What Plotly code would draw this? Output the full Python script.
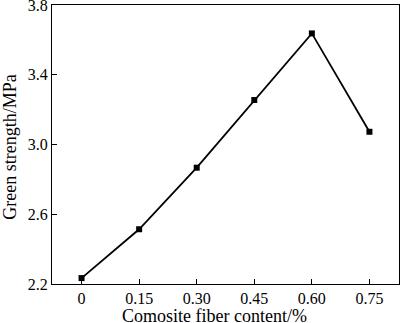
import plotly.graph_objects as go

fiber_content = [0, 0.15, 0.30, 0.45, 0.60, 0.75]
green_strength = [2.234, 2.514, 2.867, 3.255, 3.637, 3.073]
x_tick_vals = [0, 0.15, 0.30, 0.45, 0.60, 0.75]
x_tick_text = ["0", "0.15", "0.30", "0.45", "0.60", "0.75"]
y_tick_vals = [2.2, 2.6, 3.0, 3.4, 3.8]

fig = go.Figure()
fig.add_trace(go.Scatter(
    x=fiber_content, y=green_strength, mode="lines+markers",
    line=dict(color="black", width=1.8),
    marker=dict(symbol="square", size=6, color="black"),
    cliponaxis=False,
))

font = dict(family="Liberation Serif", size=16, color="black")
title_font = dict(family="Liberation Serif", size=18, color="black")
fig.update_layout(
    width=400, height=323,
    margin=dict(l=52, r=1, t=5, b=39, autoexpand=False),
    paper_bgcolor="white", plot_bgcolor="white",
    showlegend=False,
    font=font,
    annotations=[
        dict(text="Comosite fiber content/%", xref="paper", yref="paper",
             x=0.468, y=-0.1147, xanchor="center", yanchor="middle",
             showarrow=False, font=title_font),
        dict(text="Green strength/MPa", xref="paper", yref="paper",
             x=-0.122, y=0.491, xanchor="center", yanchor="middle",
             textangle=-90, showarrow=False, font=title_font),
    ],
)
fig.update_xaxes(
    range=[-0.077, 0.827], automargin=False,
    tickvals=x_tick_vals, ticktext=x_tick_text,
    ticks="inside", ticklen=5, tickwidth=1, tickcolor="black",
    showline=True, linecolor="black", linewidth=1, mirror=True,
    showgrid=False, zeroline=False, ticklabeloverflow="allow",
    tickfont=font,
)
fig.update_yaxes(
    range=[2.2, 3.8], automargin=False,
    tickvals=y_tick_vals, tickformat=".1f",
    ticks="inside", ticklen=5, tickwidth=1, tickcolor="black",
    showline=True, linecolor="black", linewidth=1, mirror=True,
    showgrid=False, zeroline=False, ticklabeloverflow="allow",
    tickfont=font,
)
fig.write_html("out.html",
               config={"displayModeBar": False},
               post_script="document.body.style.margin='0';document.body.style.overflow='hidden';")
